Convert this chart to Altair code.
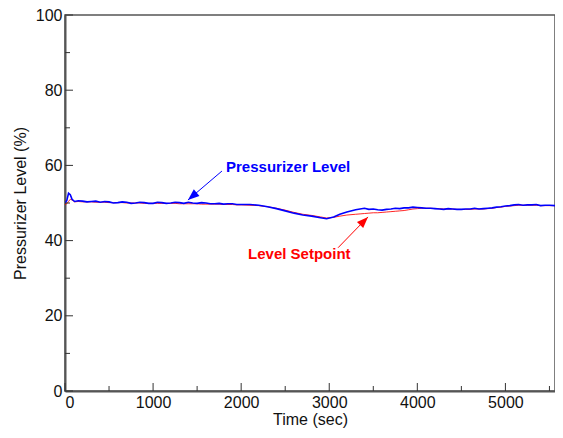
import altair as alt
import pandas as pd

time_sec = [0, 20, 40, 60, 80, 110, 150, 200, 250, 300, 350, 400, 450, 500, 550, 600, 650, 700, 750, 800, 850, 900, 950,
            1000, 1050, 1100, 1150, 1200, 1250, 1300, 1350, 1400, 1450, 1500, 1550, 1600, 1650, 1700, 1750, 1800, 1850, 1900, 1950, 2000,
            2100, 2200, 2300, 2400, 2500, 2600, 2700, 2800, 2900, 2970, 3050,
            3120, 3200, 3300, 3350, 3400, 3450, 3500, 3550, 3600, 3650, 3700, 3750, 3800, 3850, 3900, 3950, 4000, 4050, 4100,
            4150, 4200, 4250, 4300, 4350, 4400, 4450, 4500, 4550, 4600, 4650, 4700, 4750, 4800, 4850, 4900, 4950, 5000, 5050, 5100, 5150, 5200,
            5250, 5300, 5350, 5400, 5450, 5500, 5565]
pzr_level = [50.0, 50.6, 52.6, 52.2, 51.0, 50.4, 50.6, 50.5, 50.3, 50.4, 50.5, 50.2, 50.4, 50.3, 50.0, 50.1, 50.3, 50.2, 49.9, 50.0, 50.2, 50.1, 49.9,
             49.9, 50.2, 50.1, 49.9, 50.0, 50.2, 50.1, 49.9, 50.2, 50.0, 49.9, 50.1, 50.0, 49.8, 49.8, 49.9, 49.7, 49.8, 49.8, 49.6, 49.6,
             49.6, 49.4, 49.0, 48.5, 47.9, 47.3, 46.8, 46.5, 46.1, 45.8, 46.3,
             47.0, 47.6, 48.2, 48.4, 48.6, 48.3, 48.4, 48.2, 48.1, 48.3, 48.4, 48.6, 48.5, 48.7, 48.7, 48.9, 48.8, 48.7, 48.6,
             48.6, 48.5, 48.4, 48.3, 48.5, 48.4, 48.3, 48.3, 48.4, 48.4, 48.6, 48.4, 48.5, 48.6, 48.7, 48.9, 49.0, 49.2, 49.3, 49.5, 49.6, 49.4,
             49.5, 49.5, 49.6, 49.3, 49.4, 49.4, 49.3]
level_setpoint = [49.6, 49.8, 50.4, 51.0, 50.8, 50.3, 50.4, 50.3, 50.3, 50.3, 50.2, 50.2, 50.2, 50.1, 50.1, 50.1, 50.1, 50.0, 50.0, 50.0, 50.0, 49.9, 49.9,
                  49.9, 49.9, 49.9, 49.9, 49.9, 49.9, 49.8, 49.8, 49.8, 49.8, 49.8, 49.7, 49.7, 49.7, 49.7, 49.7, 49.6, 49.6, 49.6, 49.5, 49.5,
                  49.4, 49.3, 49.0, 48.6, 48.1, 47.5, 47.0, 46.7, 46.3, 46.0, 46.2,
                  46.5, 46.8, 47.0, 47.1, 47.2, 47.3, 47.4, 47.4, 47.5, 47.6, 47.7, 47.8, 47.9, 48.0, 48.2, 48.4, 48.5, 48.6, 48.6,
                  48.6, 48.5, 48.5, 48.4, 48.4, 48.4, 48.3, 48.3, 48.3, 48.3, 48.4, 48.4, 48.4, 48.5, 48.6, 48.8, 48.9, 49.1, 49.2, 49.3, 49.4, 49.4,
                  49.4, 49.4, 49.4, 49.3, 49.3, 49.3, 49.3]

x_major = [0, 1000, 2000, 3000, 4000, 5000]
x_minor = [500, 1500, 2500, 3500, 4500, 5500]
y_major = [0, 20, 40, 60, 80, 100]
y_minor = [10, 30, 50, 70, 90]

labels = ["Pressurizer Level", "Level Setpoint"]
label_x = [1828, 2078]
label_y = [59.7, 36.4]
label_color = ["#0000FF", "#FF0000"]
arrow_tail_x = [1782, 3100]
arrow_tail_y = [58.5, 38.1]
arrow_tip_x = [1396, 3440]
arrow_tip_y = [50.8, 46.3]
arrow_angle = [229.5, 44]

W, H = 490, 376
FONT = "Liberation Sans"
XMAX = 5563

df = pd.DataFrame({"t": time_sec, "lvl": pzr_level, "sp": level_setpoint})
ann = pd.DataFrame({"label": labels, "x": label_x, "y": label_y, "c": label_color,
                    "tx": arrow_tail_x, "ty": arrow_tail_y, "hx": arrow_tip_x,
                    "hy": arrow_tip_y, "ang": arrow_angle})

xs = alt.Scale(domain=[0, XMAX], nice=False)
ys = alt.Scale(domain=[0, 100], nice=False)

base = alt.Chart(df)

blue = base.mark_line(color="#0000FF", strokeWidth=1.6, clip=True).encode(
    x=alt.X("t:Q", scale=xs,
            axis=alt.Axis(title="Time (sec)", values=x_major, format="d", ticks=False,
                          labelPadding=3, titlePadding=1, grid=False)),
    y=alt.Y("lvl:Q", scale=ys,
            axis=alt.Axis(title="Pressurizer Level (%)", values=y_major, ticks=False,
                          labelPadding=3, titlePadding=7, grid=False)),
)
red = base.mark_line(color="#FF0000", strokeWidth=1, opacity=0.85, clip=True).encode(
    x=alt.X("t:Q", scale=xs), y=alt.Y("sp:Q", scale=ys))

def xticks(vals, length):
    return alt.Chart(pd.DataFrame({"v": vals})).mark_rule(color="#333", strokeWidth=1).encode(
        x=alt.X("v:Q", scale=xs), y=alt.value(H), y2=alt.value(H - length))

def yticks(vals, length):
    return alt.Chart(pd.DataFrame({"v": vals})).mark_rule(color="#333", strokeWidth=1).encode(
        y=alt.Y("v:Q", scale=ys), x=alt.value(0), x2=alt.value(length))

annb = alt.Chart(ann)
texts = annb.mark_text(font=FONT, fontSize=15, fontWeight="bold", align="left",
                       baseline="middle").encode(
    x=alt.X("x:Q", scale=xs), y=alt.Y("y:Q", scale=ys), text="label:N",
    color=alt.Color("c:N", scale=None))
shafts = annb.mark_rule(strokeWidth=1).encode(
    x=alt.X("tx:Q", scale=xs), y=alt.Y("ty:Q", scale=ys),
    x2="hx:Q", y2="hy:Q", color=alt.Color("c:N", scale=None))
heads = annb.mark_point(shape="M0,0L-0.38,1L0.38,1Z", filled=True, size=520, opacity=1).encode(
    x=alt.X("hx:Q", scale=xs), y=alt.Y("hy:Q", scale=ys),
    angle=alt.Angle("ang:Q", scale=None), color=alt.Color("c:N", scale=None))

chart = alt.layer(
    red, blue, xticks(x_major, 8), xticks(x_minor, 5), yticks(y_major, 8), yticks(y_minor, 5),
    shafts, heads, texts
).properties(
    width=W, height=H,
    autosize=alt.AutoSizeParams(type="none"),
    padding={"left": 57, "top": 7, "right": 0, "bottom": 39},
).configure_view(
    stroke="#555", strokeWidth=1.5
).configure_axis(
    labelFont=FONT, titleFont=FONT, labelFontSize=16, titleFontSize=16,
    labelColor="#111", titleColor="#111", titleFontWeight="normal",
    domainColor="#555", domainWidth=2,
)

chart.save("out.html", embed_options={"renderer": "svg", "actions": False})
